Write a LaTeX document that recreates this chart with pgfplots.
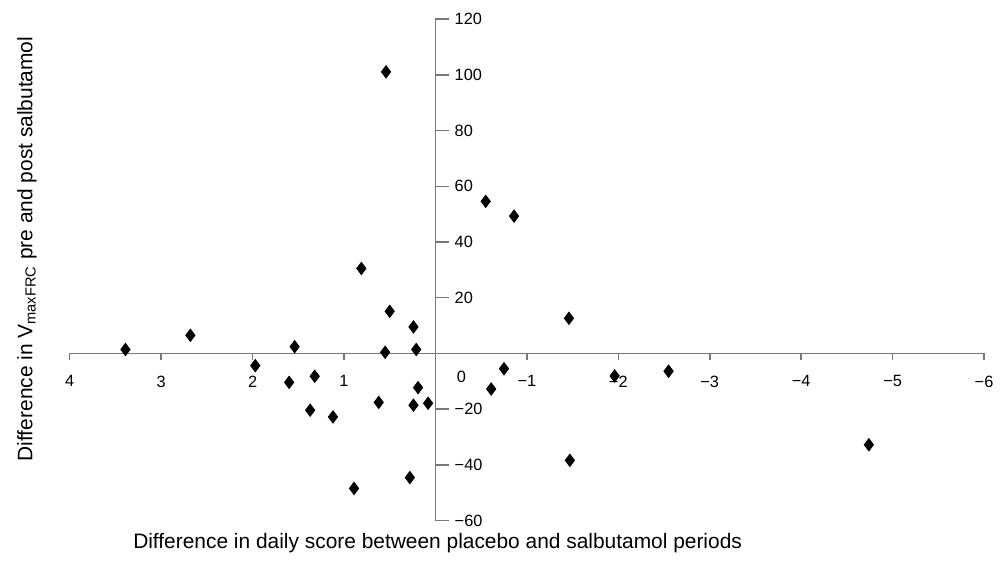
\documentclass[border=0pt]{standalone}
\usepackage{fontspec}
\setmainfont{Liberation Sans}
\usepackage{pgfplots}
\pgfplotsset{compat=1.18}
\definecolor{axgray}{RGB}{120,120,120}
\begin{document}
\begin{tikzpicture}
\begin{axis}[
    scale only axis, width=459.15pt, height=251.7pt,
    xmin=-6, xmax=4, ymin=-60, ymax=120, x dir=reverse,
    axis lines=middle, axis line style={-, axgray, line width=0.8pt},
    clip=false,
    xtick={-6,-5,-4,-3,-2,-1,1,2,3,4},
    xticklabels={−6,−5,−4,−3,−2,−1,1,2,3,4},
    ytick={-60,-40,-20,20,40,60,80,100,120},
    yticklabels={−60,−40,−20,20,40,60,80,100,120},
    extra x ticks={0}, extra x tick labels={0},
    extra x tick style={/pgfplots/major tick length=0pt, xticklabel style={xshift=13pt}},
    tick align=center,
    xtick style={axgray, line width=0.8pt, /pgfplots/major tick length=3.5pt, yshift=-1.75pt},
    ytick style={axgray, line width=0.8pt, /pgfplots/major tick length=6.7pt, xshift=3.35pt},
    ticklabel style={font=\fontsize{8.2}{9}\selectfont},
    xticklabel style={anchor=north, yshift=-5.5pt},
    yticklabel style={anchor=west, xshift=8.3pt},
]
\addplot[only marks, mark=diamond*, mark size=3.1pt, black] coordinates {
(3.39,1.4) (2.68,6.5) (1.97,-4.4) (1.54,2.4) (1.60,-10.4) (1.32,-8.2)
(1.37,-20.4) (1.12,-22.8) (0.89,-48.5) (0.81,30.5) (0.54,101.1) (0.50,15.1)
(0.55,0.4) (0.62,-17.6) (0.24,9.5) (0.21,1.4) (0.19,-12.3) (0.24,-18.6)
(0.08,-17.9) (0.28,-44.6) (-0.55,54.6) (-0.86,49.3) (-0.61,-12.8) (-0.75,-5.5)
(-1.46,12.6) (-1.47,-38.4) (-1.96,-8.1) (-2.55,-6.4) (-4.74,-32.8)
};
\node[rotate=90, font=\fontsize{10.5}{12}\selectfont] at ([shift={(-205.15pt,136.35pt)}]axis cs:0,-60) {Difference in V\textsubscript{maxFRC} pre and post salbutamol};
\node[font=\fontsize{10.5}{12}\selectfont] at ([shift={(1.1pt,-11.5pt)}]axis cs:0,-60) {Difference in daily score between placebo and salbutamol periods};
\path ([shift={(-218.65pt,-20.15pt)}]axis cs:0,-60) rectangle ([shift={(281.35pt,261.35pt)}]axis cs:0,-60);
\end{axis}
\end{tikzpicture}
\end{document}
